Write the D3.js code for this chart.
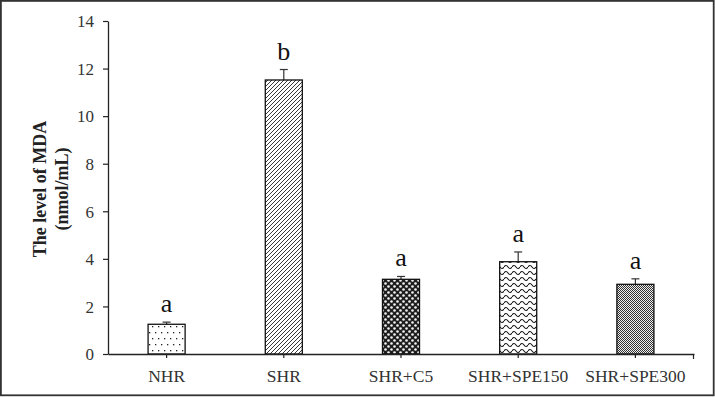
<!DOCTYPE html>
<html><head><meta charset="utf-8">
<script src="https://cdn.jsdelivr.net/npm/d3@7"></script>
<style>body{margin:0;background:#fff}svg{display:block}</style>
</head><body>
<script>
const categories = ["NHR","SHR","SHR+C5","SHR+SPE150","SHR+SPE300"];
const means = [1.25, 11.52, 3.14, 3.88, 2.93];
const errors = [0.09, 0.44, 0.12, 0.41, 0.23];
const letters = ["a","b","a","a","a"];
const yTicks = [0,2,4,6,8,10,12,14];
const patternIds = ["pDots","pHatch","pCheck","pWave","pFine"];

const W = 715, H = 397;
const svg = d3.select("body").append("svg").attr("width", W).attr("height", H);
const defs = svg.append("defs");

// patterns
let p = defs.append("pattern").attr("id","pDots").attr("patternUnits","userSpaceOnUse").attr("width",12).attr("height",12);
p.append("rect").attr("width",12).attr("height",12).attr("fill","#fff");
[[2,2],[8,2],[5,8],[11,8]].forEach(d=>p.append("rect").attr("x",d[0]).attr("y",d[1]).attr("width",1.3).attr("height",1.3).attr("fill","#222"));
p.append("rect").attr("x",-1).attr("y",8).attr("width",1.3).attr("height",1.3).attr("fill","#222");

p = defs.append("pattern").attr("id","pHatch").attr("patternUnits","userSpaceOnUse").attr("width",4).attr("height",4);
p.append("rect").attr("width",4).attr("height",4).attr("fill","#fff");
p.append("path").attr("d","M-1,1 L1,-1 M0,4 L4,0 M3,5 L5,3").attr("stroke","#222").attr("stroke-width",0.9);

p = defs.append("pattern").attr("id","pCheck").attr("patternUnits","userSpaceOnUse").attr("width",6).attr("height",6);
p.append("rect").attr("width",6).attr("height",6).attr("fill","#1e1e1e");
p.append("circle").attr("cx",1.5).attr("cy",1.5).attr("r",1.3).attr("fill","#f4f4f4");
p.append("circle").attr("cx",4.5).attr("cy",4.5).attr("r",1.3).attr("fill","#f4f4f4");

p = defs.append("pattern").attr("id","pWave").attr("patternUnits","userSpaceOnUse").attr("width",8).attr("height",6);
p.append("rect").attr("width",8).attr("height",6).attr("fill","#fff");
p.append("path").attr("d","M0,3 Q2,0 4,3 T8,3").attr("stroke","#111").attr("stroke-width",1.1).attr("fill","none");

p = defs.append("pattern").attr("id","pFine").attr("patternUnits","userSpaceOnUse").attr("width",2).attr("height",2);
p.append("rect").attr("width",2).attr("height",2).attr("fill","#eee");
p.append("rect").attr("width",1).attr("height",1).attr("fill","#333");
p.append("rect").attr("x",1).attr("y",1).attr("width",1).attr("height",1).attr("fill","#333");

// frame
svg.append("rect").attr("x",0.9).attr("y",0.9).attr("width",W-2.2).attr("height",H-2.6)
  .attr("fill","none").attr("stroke","#333").attr("stroke-width",1.8);

const x = d3.scaleBand().domain(categories).range([108, 694]).paddingInner(0.684).paddingOuter(0.342);
const y = d3.scaleLinear().domain([0,14]).range([354, 21]);

const serif = "'Liberation Serif','Times New Roman',serif";

// y axis
const yAxis = svg.append("g").attr("transform","translate(108,0)")
  .call(d3.axisLeft(y).tickValues(yTicks).tickSize(5).tickSizeOuter(0).tickFormat(d3.format("d")));
yAxis.select(".domain").attr("stroke","#222").attr("stroke-width",1.3);
yAxis.selectAll(".tick line").attr("stroke","#222").attr("stroke-width",1.2);
yAxis.selectAll(".tick text").attr("font-family",serif).attr("font-size",17).attr("fill","#333").attr("x",-14).attr("dy","0.34em");

// bars
const g = svg.append("g");
categories.forEach((c,i)=>{
  const x0 = x(c), bw = x.bandwidth(), cx = x0 + bw/2;
  const yTop = y(means[i]), yErr = y(means[i]+errors[i]);
  g.append("line").attr("x1",cx).attr("x2",cx).attr("y1",yTop).attr("y2",yErr).attr("stroke","#333").attr("stroke-width",1.2);
  g.append("line").attr("x1",cx-4).attr("x2",cx+4).attr("y1",yErr).attr("y2",yErr).attr("stroke","#333").attr("stroke-width",1.2);
  g.append("rect").attr("x",x0).attr("y",yTop).attr("width",bw).attr("height",y(0)-yTop)
    .attr("fill",`url(#${patternIds[i]})`).attr("stroke","#111").attr("stroke-width",1.3);
  g.append("text").attr("x",cx).attr("y",yErr-10).attr("text-anchor","middle")
    .attr("font-family",serif).attr("font-size",26).attr("fill","#111").text(letters[i]);
});

// x axis
const xAxis = svg.append("g").attr("transform","translate(0,354)")
  .call(d3.axisBottom(x).tickSize(4).tickSizeOuter(0));
xAxis.select(".domain").attr("stroke","#222").attr("stroke-width",1.3);
xAxis.selectAll(".tick line").attr("stroke","#222").attr("stroke-width",1.2);
xAxis.selectAll(".tick text").attr("font-family",serif).attr("font-size",17.5).attr("fill","#333").attr("y",16).attr("dy","0.71em");
xAxis.append("line").attr("x1",693.5).attr("x2",693.5).attr("y1",0).attr("y2",5).attr("stroke","#222").attr("stroke-width",1.2);

// y label
const lab = svg.append("text").attr("transform","translate(46,189) rotate(-90)")
  .attr("text-anchor","middle").attr("font-family",serif).attr("font-weight","bold").attr("font-size",18).attr("fill","#222");
lab.append("tspan").attr("x",0).attr("y",0).text("The level of MDA");
lab.append("tspan").attr("x",0).attr("y",22).text("(nmol/mL)");
</script>
</body></html>
